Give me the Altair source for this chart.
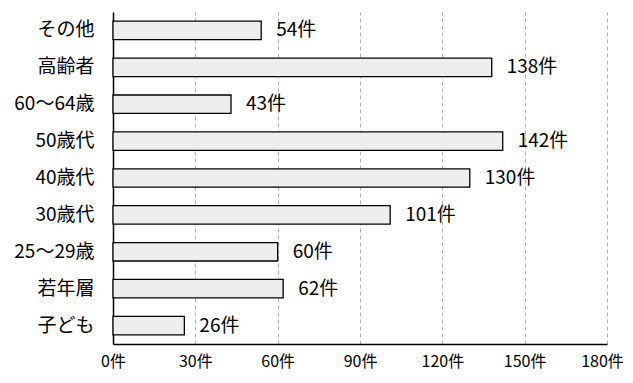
import altair as alt
import pandas as pd

categories = ["その他", "高齢者", "60～64歳", "50歳代", "40歳代", "30歳代", "25～29歳", "若年層", "子ども"]
counts = [54, 138, 43, 142, 130, 101, 60, 62, 26]
x_ticks = [0, 30, 60, 90, 120, 150, 180]

df = pd.DataFrame({"category": categories, "count": counts})
df["label"] = df["count"].astype(str) + "件"

FONT = "Noto Sans CJK JP"

x = alt.X("count:Q",
          scale=alt.Scale(domain=[0, 180], nice=False),
          axis=alt.Axis(values=x_ticks, labelExpr="datum.value + '件'", title=None,
                        grid=True, gridDash=[4, 3], gridColor="#b0b0b0", gridWidth=1,
                        ticks=False, domainColor="#000", domainWidth=1.5,
                        labelFont=FONT, labelFontSize=16, labelColor="#000",
                        labelFlush=False, labelPadding=9,
                        labelOffset=alt.expr("datum.value == 180 ? -5 : 0")))
y = alt.Y("category:N", sort=categories,
          scale=alt.Scale(paddingInner=0.5, paddingOuter=0.25),
          axis=alt.Axis(title=None, ticks=False, domainColor="#000", domainWidth=1.5,
                        labelFont=FONT, labelFontSize=19, labelFontWeight="normal",
                        labelColor="#000", labelPadding=19))

bars = alt.Chart(df).mark_bar(fill="#eeeeee", stroke="#000", strokeWidth=1.3).encode(x=x, y=y)
text = alt.Chart(df).mark_text(align="left", baseline="middle", dx=15, font=FONT,
                               fontSize=19, color="#000").encode(
    x="count:Q", y=alt.Y("category:N", sort=categories), text="label:N")

chart = (bars + text).properties(
    width=494, height=332,
    autosize=alt.AutoSizeParams(type="none"),
    padding={"left": 105, "top": 4, "right": 18, "bottom": 31},
).configure_view(stroke=None)

chart.save("out.html", embed_options={"renderer": "svg", "actions": False})
